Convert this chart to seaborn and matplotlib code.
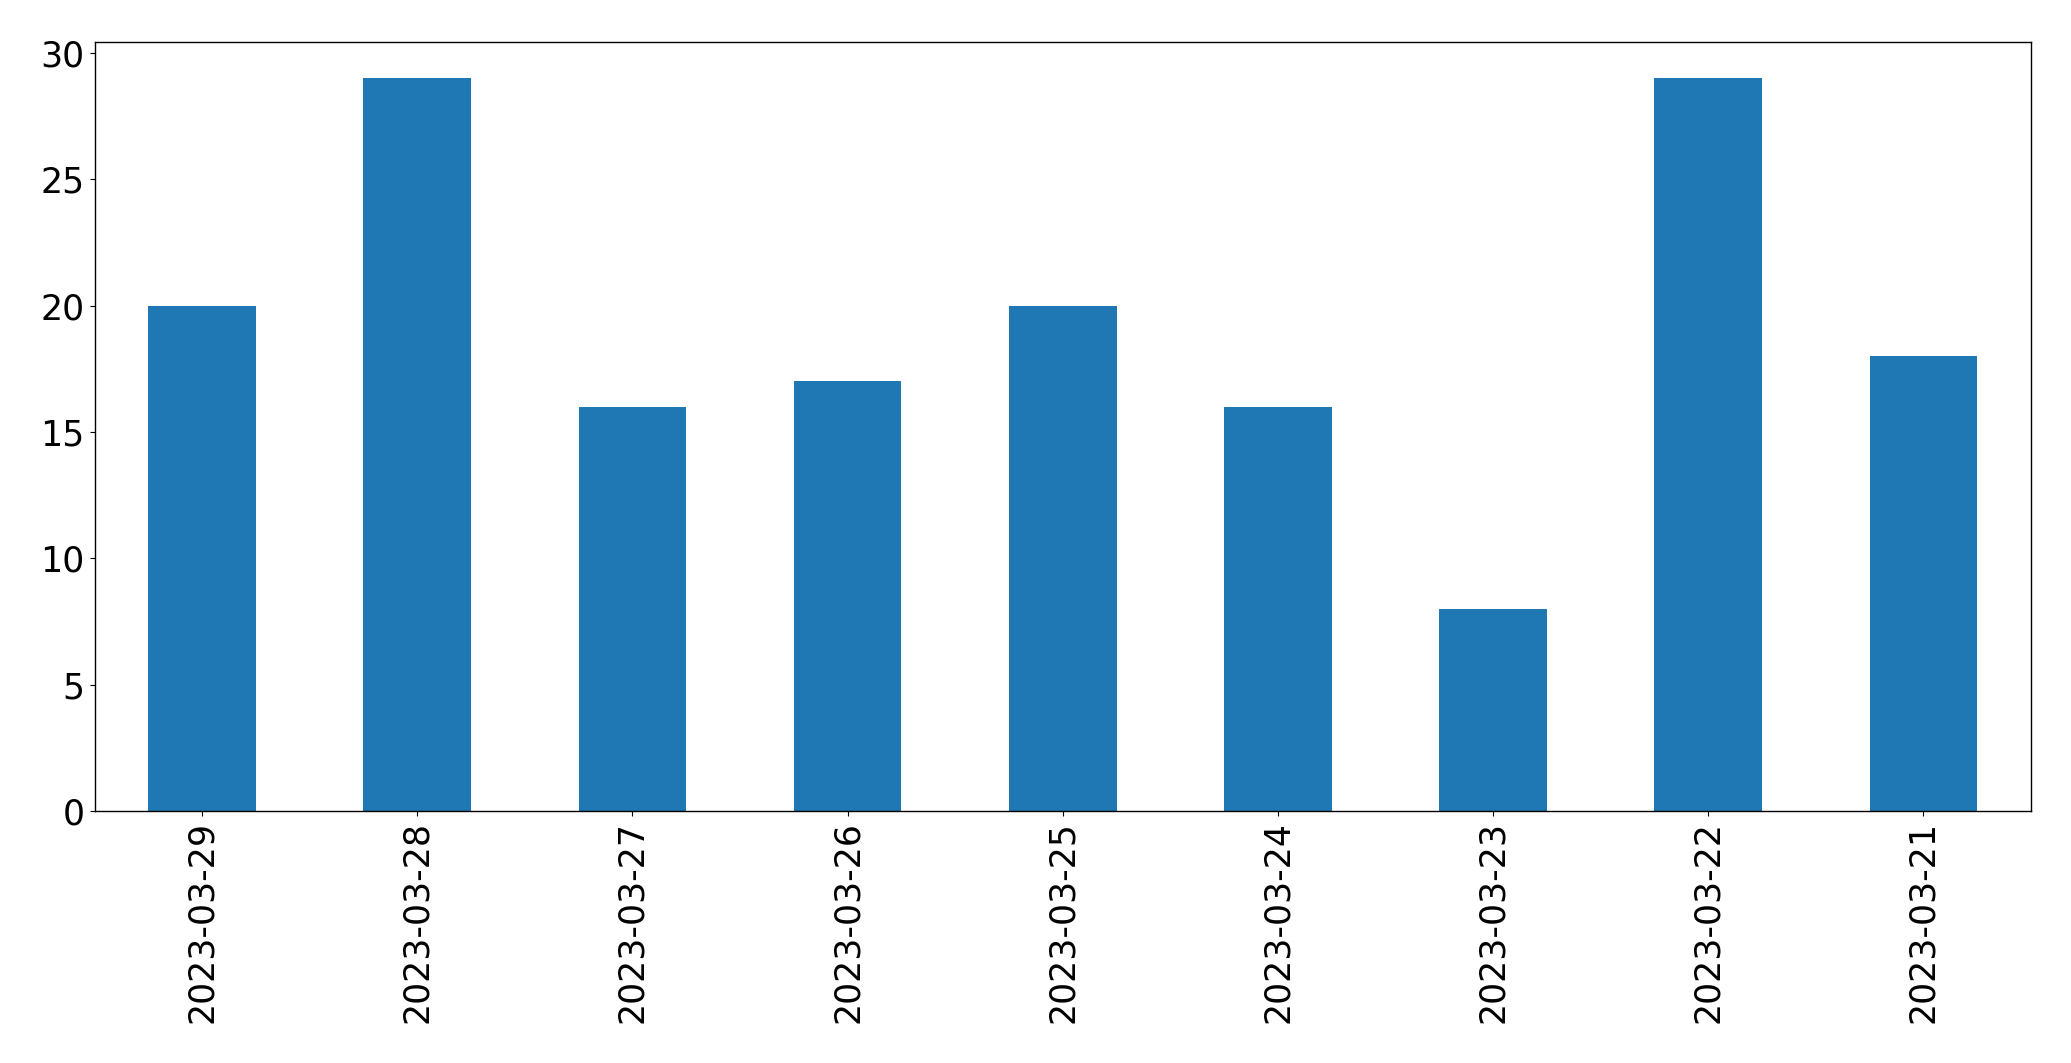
import matplotlib
matplotlib.use("Agg")
import matplotlib.pyplot as plt
import seaborn as sns
import pandas as pd

dates = ["2023-03-29", "2023-03-28", "2023-03-27", "2023-03-26", "2023-03-25",
         "2023-03-24", "2023-03-23", "2023-03-22", "2023-03-21"]
counts = [20, 29, 16, 17, 20, 16, 8, 29, 18]

df = pd.DataFrame({"date": dates, "count": counts})

fig = plt.figure(figsize=(20.71, 10.63), dpi=100)
ax = fig.add_axes([94.5 / 2071, 1 - 811 / 1063, (2031 - 94.5) / 2071, (811 - 41.5) / 1063])
sns.barplot(data=df, x="date", y="count", order=dates, color="#1f77b4",
            saturation=1, width=0.5, ax=ax, errorbar=None)
ax.set_xlim(-0.5, len(dates) - 0.5)
ax.set_ylim(0, max(counts) * 1.05)
ax.set_xlabel("")
ax.set_ylabel("")
ax.tick_params(axis="both", labelsize=25, colors="black")
plt.setp(ax.get_xticklabels(), rotation=90)
for s in ax.spines.values():
    s.set_visible(True)
    s.set_color("black")
    s.set_linewidth(1.0)
fig.savefig("out.png", dpi=100)
